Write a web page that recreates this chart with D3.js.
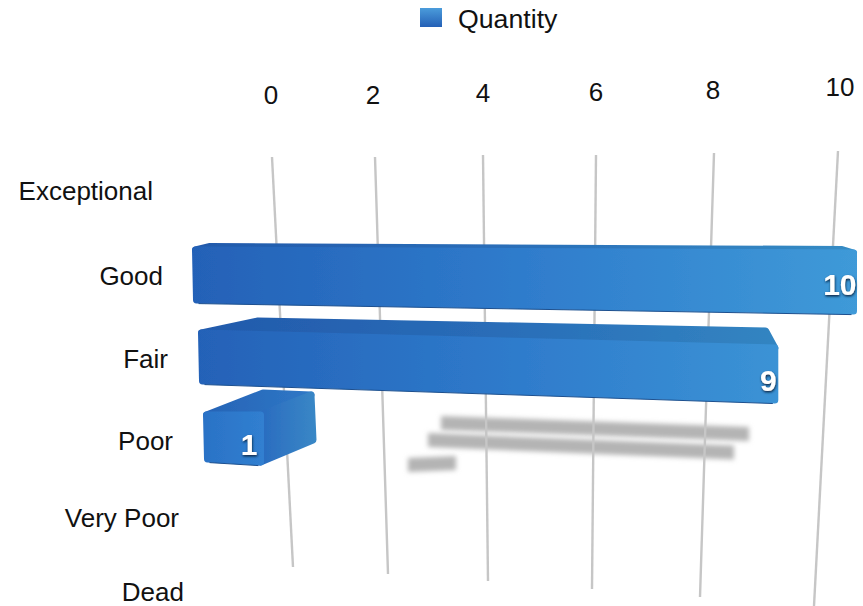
<!DOCTYPE html>
<html><head><meta charset="utf-8">
<script src="https://cdn.jsdelivr.net/npm/d3@7/dist/d3.min.js"></script>
<style>html,body{margin:0;padding:0;background:#fff}svg{display:block}text{font-family:"Liberation Sans",Arial,sans-serif;fill:#111}</style>
</head><body><svg id="c" width="863" height="606"></svg>
<script>
const seriesName = "Quantity";
const categories = ["Exceptional","Good","Fair","Poor","Very Poor","Dead"];
const quantities = [0,10,9,1,0,0];
const tickValues = [0,2,4,6,8,10];

const svg = d3.select("#c");
const defs = svg.append("defs");
const rowIdx = categories.map((_,i)=>i);

// perspective: each gridline runs from a far end to a near end
const gTopX = d3.scaleLinear().domain(tickValues).range([272,375,483,596,714,838]);
const gTopY = d3.scaleLinear().domain(tickValues).range([157,157,155,155,153,151]);
const gBotX = d3.scaleLinear().domain(tickValues).range([293,388,488,592,700,814]);
const gBotY = d3.scaleLinear().domain(tickValues).range([567,574,581,589,597,606]);
const tickLabelX = d3.scaleLinear().domain(tickValues).range([271,373,483,596,713,840]);
const tickLabelY = d3.scaleLinear().domain(tickValues).range([104,104,102,101,99,96]);

const catRight = d3.scaleLinear().domain(rowIdx).range([153,163,168,173,179,184]);
const catY = d3.scaleLinear().domain(rowIdx).range([200,285,368,450,527,601]);

// bar geometry per row (rows 1..3 carry a bar)
const r = [1,2,3];
const fLeft = d3.scaleLinear().domain(r).range([195.5,201.5,206.5]);
const fUnit = d3.scaleLinear().domain(r).range([65.8,63.7,54]);
const bLeft = d3.scaleLinear().domain(r).range([210,258,263]);
const bUnit = d3.scaleLinear().domain(r).range([63.2,56.4,48]);
const fTop = d3.scaleLinear().domain(r).range([250,333,415]);
const fTopS = d3.scaleLinear().domain(r).range([0.3,1.67,0]);
const fBot = d3.scaleLinear().domain(r).range([300,381,459]);
const fBotS = d3.scaleLinear().domain(r).range([1.1,2.1,3]);
const bTop = d3.scaleLinear().domain(r).range([246.5,321,393]);
const bTopS = d3.scaleLinear().domain(r).range([0.3,1.1,2]);
// cast shadows
const sLeft = d3.scaleLinear().domain(r).range([441,428,408]);
const sUnit = d3.scaleLinear().domain(r).range([30.8,34,48]);
const sTop = d3.scaleLinear().domain(r).range([423,440,465]);
const sSlope = d3.scaleLinear().domain(r).range([1.1,1.4,-2]);

function grad(id,x1,x2,stops){
  const g=defs.append("linearGradient").attr("id",id).attr("gradientUnits","userSpaceOnUse")
    .attr("x1",x1).attr("x2",x2).attr("y1",0).attr("y2",0);
  stops.forEach(([o,c])=>g.append("stop").attr("offset",o).attr("stop-color",c));
}
grad("front",190,860,[[0,"#2461b7"],[0.5,"#2f7ccc"],[1,"#3f9ad8"]]);
grad("top",190,860,[[0,"#2259ab"],[0.5,"#2a6fb9"],[1,"#358cc4"]]);
grad("poorFront",203,262,[[0,"#2b72c6"],[1,"#307fd0"]]);
grad("poorTop",203,313,[[0,"#2663b6"],[1,"#2f78c6"]]);
grad("poorSide",262,317,[[0,"#2a6cc0"],[1,"#3a88c6"]]);
const lg=defs.append("linearGradient").attr("id","sw").attr("x1",0).attr("x2",0).attr("y1",0).attr("y2",1);
lg.append("stop").attr("offset",0).attr("stop-color","#4b9cdb");
lg.append("stop").attr("offset",1).attr("stop-color","#2460b6");
defs.append("filter").attr("id","soft").append("feGaussianBlur").attr("stdDeviation",0.7);
const blur=defs.append("filter").attr("id","blur").attr("filterUnits","userSpaceOnUse")
  .attr("x",380).attr("y",390).attr("width",400).attr("height",100);
blur.append("feGaussianBlur").attr("stdDeviation",2.8);
const ts=defs.append("filter").attr("id","lab").attr("x","-30%").attr("y","-30%").attr("width","160%").attr("height","160%");
ts.append("feDropShadow").attr("dx",0.5).attr("dy",1.4).attr("stdDeviation",1).attr("flood-color","#08213f").attr("flood-opacity",1);

// legend
const legend=svg.append("g");
legend.append("rect").attr("x",420).attr("y",8).attr("width",22).attr("height",19).attr("fill","url(#sw)");
legend.append("text").attr("x",458).attr("y",28).attr("font-size",26.7).text(seriesName);

const rows = rowIdx.filter(i=>quantities[i]>0);
const line=d3.line().curve(d3.curveLinearClosed);

// shadows
svg.append("g").selectAll("path").data(rows).join("path")
  .attr("filter","url(#blur)").attr("fill","#b4b4b4")
  .attr("d",i=>{const v=quantities[i],x0=sLeft(i),x1=x0+sUnit(i)*v,y0=sTop(i),y1=y0+sSlope(i)*v,h=7;
    return line([[x0,y0-h],[x1,y1-h],[x1,y1+h],[x0,y0+h]]);});

// gridlines
svg.append("g").selectAll("line").data(tickValues).join("line")
  .attr("x1",gTopX).attr("y1",gTopY).attr("x2",gBotX).attr("y2",gBotY)
  .attr("stroke","#c6c6c6").attr("stroke-width",2.4);

// tick labels
svg.append("g").selectAll("text").data(tickValues).join("text")
  .attr("x",tickLabelX).attr("y",tickLabelY).attr("text-anchor","middle").attr("font-size",26).text(d=>d);

// category labels
svg.append("g").selectAll("text").data(categories).join("text")
  .attr("x",(d,i)=>catRight(i)).attr("y",(d,i)=>catY(i)).attr("text-anchor","end").attr("font-size",26).text(d=>d);

// bars: near faces over far faces
const bars=svg.append("g").attr("filter","url(#soft)");
rows.forEach(i=>{
  const v=quantities[i], poor=i===3;
  const fx0=fLeft(i), fx1=fx0+fUnit(i)*v, bx0=bLeft(i), bx1=bx0+bUnit(i)*v;
  const ft0=fTop(i), ft1=ft0+fTopS(i)*v, fb0=fBot(i), fb1=fb0+fBotS(i)*v;
  const bt0=bTop(i), bt1=bt0+bTopS(i)*v;
  const face=(pts,fill)=>bars.append("path").attr("d",line(pts)).attr("fill",fill)
     .attr("stroke",fill).attr("stroke-width",7).attr("stroke-linejoin","round");
  face([[fx0,ft0],[bx0,bt0],[bx1,bt1],[fx1,ft1]],poor?"url(#poorTop)":"url(#top)");
  if(bx1>fx1) face([[fx1,ft1],[bx1,bt1],[bx1+2,fb1-22],[fx1,fb1]],"url(#poorSide)");
  face([[fx0,ft0],[fx1,ft1],[fx1,fb1],[fx0+1,fb0]],poor?"url(#poorFront)":"url(#front)");
  bars.append("path").attr("d",d3.line()([[fx0+3,fb0+3.6],[fx1-2,fb1+3.6]]))
     .attr("stroke","#1b4f8e").attr("stroke-width",1).attr("fill","none");
});

// value labels
svg.append("g").selectAll("text").data(rows).join("text")
  .attr("x",i=>fLeft(i)+fUnit(i)*quantities[i]+[0,3,2,-3][i])
  .attr("y",i=>(fTop(i)+fTopS(i)*quantities[i]+fBot(i)+fBotS(i)*quantities[i])/2+[0,13,17,16][i])
  .attr("text-anchor","end").attr("font-size",30).attr("font-weight","bold")
  .attr("filter","url(#lab)").style("fill","#fff").text(i=>quantities[i]);
</script></body></html>
